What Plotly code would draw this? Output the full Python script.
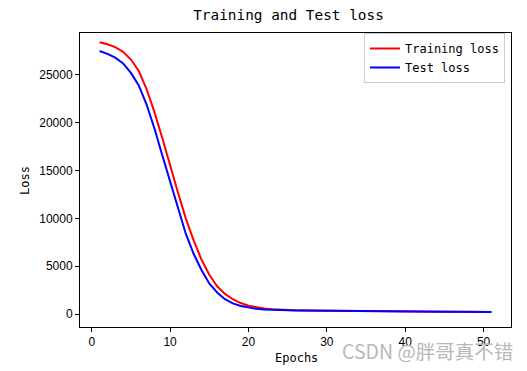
import plotly.graph_objects as go

epochs = list(range(1, 52))
train_loss = [28400, 28200, 27900, 27400, 26600, 25400, 23500, 21100, 18400, 15500,
              12700, 10000, 7700, 5700, 4100, 2900, 2100, 1550, 1150, 870,
              690, 570, 490, 440, 405, 385, 370, 358, 348, 340,
              332, 325, 318, 311, 305, 298, 292, 286, 280, 274,
              268, 262, 256, 250, 244, 238, 232, 226, 220, 214, 208]
test_loss = [27500, 27200, 26800, 26200, 25200, 23900, 21900, 19400, 16600, 13900,
             11200, 8400, 6300, 4600, 3200, 2250, 1550, 1120, 840, 660,
             545, 475, 432, 405, 385, 370, 358, 348, 340, 332,
             325, 318, 311, 305, 299, 293, 287, 281, 275, 269,
             263, 257, 251, 245, 239, 233, 227, 221, 215, 209, 203]
x_ticks = [0, 10, 20, 30, 40, 50]
y_ticks = [0, 5000, 10000, 15000, 20000, 25000]

mono = "DejaVu Sans Mono"
sans = "Liberation Sans"

fig = go.Figure()
fig.add_trace(go.Scatter(x=epochs, y=train_loss, mode="lines", name="Training loss",
                         line=dict(color="#ff0000", width=2)))
fig.add_trace(go.Scatter(x=epochs, y=test_loss, mode="lines", name="Test loss",
                         line=dict(color="#0000ff", width=2)))

# page body has an 8px margin; offset the figure so the plot lands where the reference has it
OFF = 8
W, H = 527 - OFF, 371 - OFF
L, T = 80 - OFF, 33 - OFF
R = W - (511 - OFF)
B = H - (327 - OFF)
pw = W - L - R
ph = H - T - B

def px_x(x):  # window pixel -> paper x
    return (x - OFF - L) / pw

def px_y(y):  # window pixel -> paper y
    return (H - B - (y - OFF)) / ph

axis_common = dict(showgrid=False, zeroline=False, showline=True, linecolor="black",
                   linewidth=1, mirror=True, ticks="outside", ticklen=4,
                   tickcolor="black", tickfont=dict(family=sans, size=12),
                   automargin=False)

fig.update_layout(
    width=W, height=H,
    margin=dict(l=L, r=R, t=T, b=B, autoexpand=False),
    paper_bgcolor="white", plot_bgcolor="white",
    font=dict(family=mono, size=12, color="black"),
    title=dict(text="Training and Test loss", x=(288.5 - OFF) / W, xanchor="center",
               y=1 - (14.5 - OFF) / H, yanchor="middle", font=dict(family=mono, size=14.4)),
    showlegend=True,
    legend=dict(x=px_x(505), xanchor="right", y=px_y(33), yanchor="top",
                bordercolor="#cccccc", borderwidth=1, bgcolor="white",
                font=dict(family=mono, size=12), tracegroupgap=0,
                itemwidth=30),
    xaxis=dict(range=[-1.5, 53.5], tickvals=x_ticks, **axis_common),
    yaxis=dict(range=[-1354, 29375], tickvals=y_ticks, tickformat="d", **axis_common),
    annotations=[
        dict(text="Epochs", xref="paper", yref="paper", x=px_x(296), y=px_y(357.5),
             xanchor="center", yanchor="middle", showarrow=False,
             font=dict(family=mono, size=12)),
        dict(text="Loss", xref="paper", yref="paper", x=px_x(25), y=px_y(180),
             xanchor="center", yanchor="middle", showarrow=False, textangle=-90,
             font=dict(family=mono, size=12)),
        dict(text="CSDN @胖哥真不错", xref="paper", yref="paper",
             x=px_x(515), y=px_y(350), xanchor="right", yanchor="middle",
             showarrow=False,
             font=dict(family="Noto Sans CJK SC", size=19.5, color="#b8b8b8")),
    ],
)

fig.write_html("out.html")
